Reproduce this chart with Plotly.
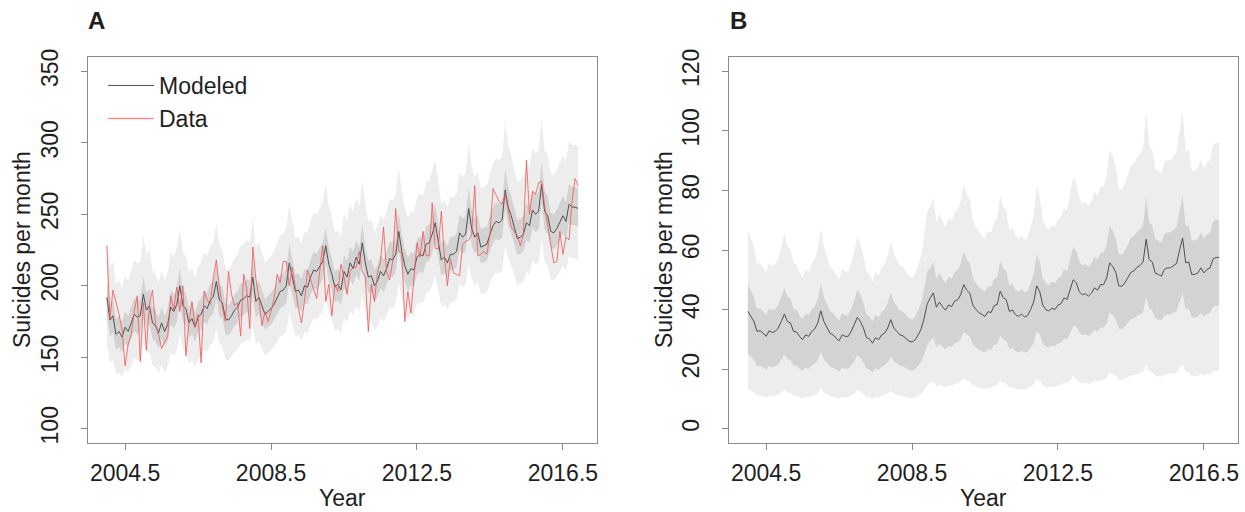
import plotly.graph_objects as go

start_year = 2004

# Panel A: modeled monthly suicides (Jan 2004 .. Dec 2016)
modeled_a = [
    192, 176, 179, 166, 168, 164, 171, 168, 174, 180, 178, 179,
    194, 183, 186, 174, 172, 167, 174, 168, 173, 185, 182, 187,
    200, 186, 184, 174, 177, 171, 178, 180, 186, 184, 190, 192,
    203, 190, 188, 177, 176, 179, 183, 185, 190, 191, 193, 192,
    206, 189, 192, 186, 180, 182, 184, 187, 191, 196, 197, 200,
    216, 205, 196, 197, 193, 200, 199, 206, 211, 210, 214, 217,
    228, 215, 208, 199, 201, 197, 210, 206, 216, 212, 220, 215,
    230, 216, 206, 207, 200, 203, 210, 207, 212, 219, 218, 222,
    238, 224, 214, 208, 212, 211, 220, 222, 221, 229, 230, 236,
    244, 232, 218, 220, 216, 222, 222, 224, 237, 234, 236, 254,
    240, 234, 237, 227, 228, 229, 236, 242, 245, 244, 246, 267,
    255, 249, 241, 233, 234, 236, 244, 242, 253, 250, 252, 271,
    252, 249, 238, 237, 240, 245, 249, 245, 257, 255, 255, 254,
]

# Panel A: observed data
data_a = [
    228, 177, 197, 189, 180, 169, 144, 159, 166, 182, 193, 147,
    188, 155, 187, 197, 173, 166, 156, 161, 164, 193, 183, 199,
    182, 200, 151, 174, 189, 171, 180, 146, 196, 190, 187, 205,
    218, 199, 185, 175, 210, 194, 186, 188, 165, 208, 198, 170,
    227, 205, 191, 172, 182, 175, 182, 191, 208, 202, 217, 217,
    200, 213, 198, 184, 174, 189, 211, 204, 198, 191, 210, 228,
    189, 201, 179, 201, 196, 215, 206, 194, 210, 213, 213, 224,
    210, 206, 168, 201, 189, 209, 217, 241, 210, 204, 217, 254,
    224, 223, 175, 196, 181, 204, 230, 220, 238, 221, 221, 258,
    226, 226, 252, 220, 200, 219, 209, 208, 207, 229, 231, 232,
    236, 270, 221, 222, 224, 222, 236, 268, 263, 259, 257, 264,
    253, 241, 238, 235, 228, 236, 288, 250, 266, 264, 272, 273,
    255, 242, 229, 216, 217, 238, 222, 234, 232, 259, 275, 270,
]

# Panel B: modeled monthly suicides
modeled_b = [
    39.4, 37.7, 36.0, 32.7, 32.9, 32.1, 31.0, 32.9, 32.3, 32.7, 33.8, 36.0,
    38.5, 36.0, 35.5, 32.7, 32.5, 31.0, 29.9, 31.5, 31.0, 32.7, 33.5, 35.5,
    39.6, 36.0, 33.8, 32.1, 31.5, 30.4, 29.5, 31.5, 31.0, 31.0, 32.7, 35.0,
    37.4, 36.0, 33.8, 30.6, 30.2, 28.7, 30.6, 29.9, 31.5, 32.1, 33.8, 36.6,
    33.8, 32.7, 31.5, 31.2, 30.4, 29.4, 29.1, 29.8, 31.5, 33.5, 37.2, 42.0,
    43.9, 45.6, 40.8, 42.5, 41.0, 39.8, 41.5, 41.0, 42.8, 43.3, 45.0, 48.4,
    46.5, 45.5, 41.5, 40.0, 39.0, 38.3, 37.7, 39.3, 39.0, 41.3, 41.7, 46.2,
    44.0, 43.3, 39.4, 39.9, 38.3, 37.7, 38.5, 37.5, 38.0, 40.0, 42.5, 48.0,
    46.0, 41.5, 40.0, 39.5, 40.5, 40.0, 41.5, 42.0, 43.9, 43.4, 46.5, 50.0,
    49.0, 46.0, 45.0, 45.3, 44.5, 45.5, 47.3, 46.5, 48.4, 48.4, 50.6, 55.7,
    54.5, 52.5, 48.0, 47.8, 49.0, 50.6, 52.5, 53.0, 54.2, 54.8, 56.0, 63.6,
    56.8, 56.0, 52.2, 51.8, 51.2, 53.5, 54.0, 54.0, 54.8, 55.5, 60.0, 64.0,
    55.7, 56.0, 51.8, 51.8, 52.3, 54.0, 52.3, 53.5, 54.0, 57.0, 57.5, 57.5,
]

# Interval edges as multiples of the modeled value, one value per year 2004..2016
a_outer_hi = [1.21, 1.21, 1.20, 1.20, 1.20, 1.19, 1.19, 1.19, 1.19, 1.18, 1.18, 1.17, 1.17]
a_outer_lo = [0.83, 0.83, 0.835, 0.84, 0.84, 0.84, 0.845, 0.845, 0.85, 0.85, 0.855, 0.86, 0.86]
a_inner_hi = [1.065, 1.065, 1.06, 1.06, 1.06, 1.06, 1.055, 1.055, 1.055, 1.055, 1.055, 1.055, 1.055]
a_inner_lo = [0.935, 0.935, 0.94, 0.94, 0.94, 0.94, 0.945, 0.945, 0.945, 0.95, 0.95, 0.95, 0.95]
b_outer_hi = [1.69, 1.70, 1.70, 1.72, 1.74, 1.70, 1.69, 1.69, 1.69, 1.68, 1.68, 1.67, 1.67]
b_outer_lo = [0.34, 0.34, 0.34, 0.35, 0.35, 0.35, 0.35, 0.35, 0.35, 0.34, 0.34, 0.34, 0.34]
b_inner_hi = [1.23, 1.23, 1.23, 1.25, 1.26, 1.23, 1.22, 1.22, 1.22, 1.22, 1.22, 1.22, 1.22]
b_inner_lo = [0.64, 0.65, 0.65, 0.66, 0.67, 0.67, 0.68, 0.68, 0.69, 0.70, 0.70, 0.71, 0.72]

year_tick_vals = [2004.5, 2008.5, 2012.5, 2016.5]
year_tick_text = ["2004.5", "2008.5", "2012.5", "2016.5"]
a_y_ticks = [100, 150, 200, 250, 300, 350]
b_y_ticks = [0, 20, 40, 60, 80, 100, 120]

months = [start_year + i / 12 for i in range(len(modeled_a))]


def scaled(series, ratios):
    return [v * ratios[i // 12] for i, v in enumerate(series)]


FONT = "Liberation Sans, Arial, Helvetica, sans-serif"
TXT = "#1e1e1e"
OUTER = "#ededed"
INNER = "#d3d3d3"
BOX = "#8a8a8a"
W, H = 1245, 512
FS = 23

fig = go.Figure()


def add_band(hi, lo, color, xa, ya):
    fig.add_trace(go.Scatter(x=months, y=hi, mode="lines", line=dict(width=0, color=color),
                             showlegend=False, hoverinfo="skip", xaxis=xa, yaxis=ya))
    fig.add_trace(go.Scatter(x=months, y=lo, mode="lines", line=dict(width=0, color=color),
                             fill="tonexty", fillcolor=color, showlegend=False,
                             hoverinfo="skip", xaxis=xa, yaxis=ya))


# Panel A
add_band(scaled(modeled_a, a_outer_hi), scaled(modeled_a, a_outer_lo), OUTER, "x", "y")
add_band(scaled(modeled_a, a_inner_hi), scaled(modeled_a, a_inner_lo), INNER, "x", "y")
fig.add_trace(go.Scatter(x=months, y=modeled_a, mode="lines", name="Modeled",
                         line=dict(color="#505050", width=1), xaxis="x", yaxis="y"))
fig.add_trace(go.Scatter(x=months, y=data_a, mode="lines", name="Data",
                         line=dict(color="rgba(242,85,85,0.8)", width=1), xaxis="x", yaxis="y"))

# Panel B
add_band(scaled(modeled_b, b_outer_hi), scaled(modeled_b, b_outer_lo), OUTER, "x2", "y2")
add_band(scaled(modeled_b, b_inner_hi), scaled(modeled_b, b_inner_lo), INNER, "x2", "y2")
fig.add_trace(go.Scatter(x=months, y=modeled_b, mode="lines", name="Modeled",
                         line=dict(color="#505050", width=1), showlegend=False,
                         xaxis="x2", yaxis="y2"))

axis_common = dict(showline=True, linecolor=BOX, linewidth=1, mirror=True, ticks="outside",
                   ticklen=6, tickcolor=BOX, showgrid=False, zeroline=False, automargin=False,
                   tickfont=dict(size=FS, color=TXT, family=FONT))

ydom = [1 - 443 / H, 1 - 57 / H]
xdomA = [88 / W, 597 / W]
xdomB = [729 / W, 1238 / W]
xrange = [2003.483, 2017.434]


def ann(text, x, y, size=FS, angle=0, bold=False):
    return dict(text=f"<b>{text}</b>" if bold else text, x=x / W, y=1 - y / H,
                xref="paper", yref="paper", showarrow=False, textangle=angle,
                xanchor="center", yanchor="middle",
                font=dict(size=size, family=FONT, color=TXT))


fig.update_layout(
    width=W, height=H,
    margin=dict(l=0, r=0, t=0, b=0, autoexpand=False),
    paper_bgcolor="white", plot_bgcolor="white",
    font=dict(family=FONT, size=FS, color=TXT),
    xaxis=dict(domain=xdomA, range=xrange, tickvals=year_tick_vals, ticktext=year_tick_text,
               anchor="y", ticklabelstandoff=3, **axis_common),
    yaxis=dict(domain=ydom, range=[90, 360], tickvals=a_y_ticks, tickangle=-90, anchor="x",
               ticklabelstandoff=14, **axis_common),
    xaxis2=dict(domain=xdomB, range=xrange, tickvals=year_tick_vals, ticktext=year_tick_text,
                anchor="y2", ticklabelstandoff=3, **axis_common),
    yaxis2=dict(domain=ydom, range=[-4.8, 124.8], tickvals=b_y_ticks, tickangle=-90, anchor="x2",
                ticklabelstandoff=14, **axis_common),
    legend=dict(x=103 / W, y=1 - 64 / H, xanchor="left", yanchor="top", traceorder="normal",
                itemwidth=46, bgcolor="rgba(0,0,0,0)",
                font=dict(size=FS, family=FONT, color=TXT)),
    showlegend=True,
    annotations=[
        ann("A", 96, 20, size=24, bold=True),
        ann("B", 738, 20, size=24, bold=True),
        ann("Year", 342.5, 498),
        ann("Year", 983.5, 498),
        ann("Suicides per month", 22, 250, angle=-90),
        ann("Suicides per month", 664, 250, angle=-90),
    ],
)

fig.write_html(
    "out.html",
    config={"displayModeBar": False},
    post_script="document.body.style.margin='0';document.body.style.overflow='hidden';",
)
